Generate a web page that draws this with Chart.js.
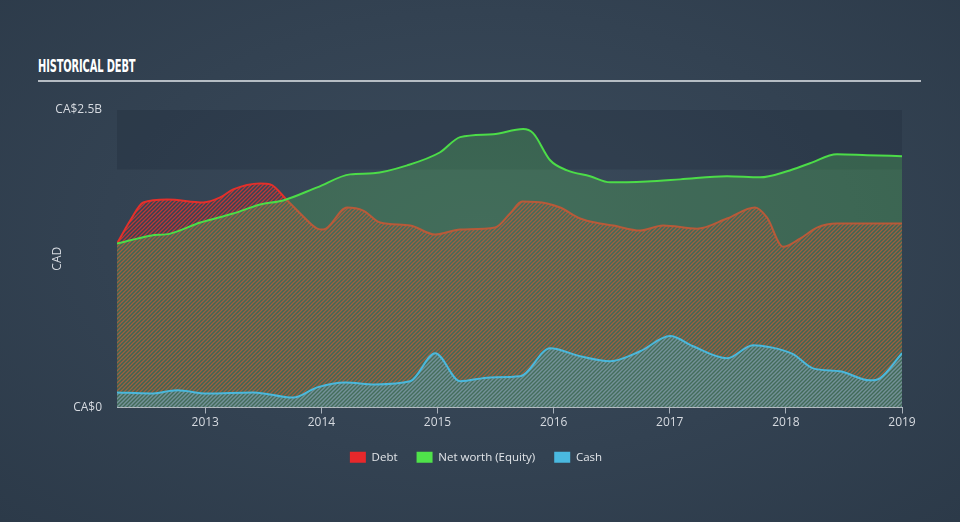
<!DOCTYPE html>
<html>
<head>
<meta charset="utf-8">
<script src="https://cdn.jsdelivr.net/npm/chart.js@4"></script>
<style>
  html, body { margin: 0; padding: 0; }
  body {
    width: 960px; height: 522px; overflow: hidden; position: relative;
    background: radial-gradient(ellipse at 50% 45%, #3b4b5c 0%, #334252 55%, #2c3a49 100%);
  }
  #title {
    position: absolute; left: 38px; top: 55px; width: 883px; height: 25px;
    border-bottom: 2px solid rgba(205, 210, 216, 0.85);
  }
  #title span {
    display: inline-block; transform: scaleX(0.61); transform-origin: left center;
    font-family: "Liberation Sans Narrow", "DejaVu Sans Condensed", sans-serif;
    font-weight: bold; font-size: 18px; color: #ffffff; letter-spacing: -0.2px;
  }
  #wrap { position: absolute; left: 0; top: 0; width: 960px; height: 522px; }
</style>
</head>
<body>
<div id="title"><span>HISTORICAL DEBT</span></div>
<div id="wrap"><canvas id="debtChart" width="960" height="522"></canvas></div>
<script>
// values in CA$ billions, x as decimal years
const debtYears = [2012.24, 2012.354, 2012.466, 2012.673, 2012.983, 2013.129, 2013.241, 2013.473, 2013.56, 2013.706, 2013.818, 2013.964, 2014.016, 2014.222, 2014.36, 2014.506, 2014.765, 2014.98, 2015.195, 2015.496, 2015.625, 2015.729, 2015.944, 2016.056, 2016.228, 2016.4, 2016.512, 2016.745, 2016.942, 2017.235, 2017.493, 2017.734, 2017.838, 2017.975, 2018.122, 2018.268, 2018.44, 2018.724, 2019.0];
const debtValues = [1.377, 1.571, 1.723, 1.748, 1.723, 1.765, 1.833, 1.883, 1.875, 1.74, 1.63, 1.503, 1.495, 1.681, 1.655, 1.554, 1.529, 1.453, 1.495, 1.512, 1.63, 1.731, 1.715, 1.681, 1.588, 1.546, 1.529, 1.487, 1.529, 1.503, 1.588, 1.681, 1.596, 1.351, 1.419, 1.512, 1.546, 1.546, 1.546];

const equityYears = [2012.24, 2012.527, 2012.699, 2012.957, 2013.241, 2013.473, 2013.671, 2013.964, 2014.248, 2014.446, 2014.739, 2015.023, 2015.195, 2015.479, 2015.737, 2015.823, 2015.97, 2016.116, 2016.314, 2016.486, 2016.805, 2017.089, 2017.493, 2017.777, 2018.01, 2018.208, 2018.44, 2018.699, 2019.0];
const equityValues = [1.377, 1.444, 1.461, 1.554, 1.63, 1.706, 1.74, 1.85, 1.959, 1.968, 2.035, 2.145, 2.272, 2.297, 2.34, 2.306, 2.078, 1.993, 1.943, 1.892, 1.9, 1.917, 1.943, 1.934, 1.985, 2.052, 2.128, 2.12, 2.112];

const cashYears = [2012.24, 2012.527, 2012.759, 2013.017, 2013.413, 2013.757, 2013.964, 2014.205, 2014.463, 2014.765, 2014.98, 2015.195, 2015.453, 2015.712, 2015.97, 2016.228, 2016.486, 2016.745, 2017.003, 2017.201, 2017.493, 2017.717, 2017.864, 2018.062, 2018.234, 2018.466, 2018.724, 2018.81, 2019.0];
const cashValues = [0.127, 0.118, 0.144, 0.118, 0.127, 0.084, 0.169, 0.211, 0.194, 0.22, 0.456, 0.22, 0.253, 0.262, 0.498, 0.431, 0.389, 0.473, 0.6, 0.515, 0.414, 0.524, 0.507, 0.448, 0.329, 0.304, 0.228, 0.245, 0.456];

const yearTicks = [2013, 2014, 2015, 2016, 2017, 2018, 2019];
const valueTicks = [0, 2.5];

const toPoints = (xs, ys) => xs.map((x, i) => ({ x: x, y: ys[i] }));

function hatch(color, tint) {
  const c = document.createElement("canvas");
  c.width = 4; c.height = 4;
  const g = c.getContext("2d");
  if (tint) { g.fillStyle = tint; g.fillRect(0, 0, 4, 4); }
  g.strokeStyle = color;
  g.lineWidth = 1.3;
  g.beginPath();
  g.moveTo(0, 4); g.lineTo(4, 0);
  g.moveTo(-1, 1); g.lineTo(1, -1);
  g.moveTo(3, 5); g.lineTo(5, 3);
  g.stroke();
  return g.createPattern(c, "repeat");
}

const solidColors = ["#e8282b", "#4fe24a", "#4ab9e0"];

// darker band between 2.0B and 2.5B
const bandPlugin = {
  id: "band",
  beforeDatasetsDraw(chart) {
    const { ctx, chartArea, scales } = chart;
    const top = scales.y.getPixelForValue(2.5);
    const bottom = scales.y.getPixelForValue(2.0);
    ctx.save();
    ctx.fillStyle = "rgba(22, 32, 46, 0.2)";
    ctx.fillRect(chartArea.left, top, chartArea.right - chartArea.left, bottom - top);
    ctx.restore();
  },
};

Chart.defaults.font.family = "'Open Sans', 'DejaVu Sans', sans-serif";
Chart.defaults.font.size = 12;
Chart.defaults.color = "#d6dae0";

new Chart(document.getElementById("debtChart"), {
  type: "line",
  data: {
    datasets: [
      {
        label: "Debt",
        data: toPoints(debtYears, debtValues),
        borderColor: "#e3302b",
        backgroundColor: hatch("rgba(222, 52, 48, 0.8)"),
        fill: "origin",
        order: 3,
      },
      {
        label: "Net worth (Equity)",
        data: toPoints(equityYears, equityValues),
        borderColor: "#4cdc48",
        backgroundColor: "rgba(86, 190, 89, 0.3)",
        fill: "origin",
        order: 2,
      },
      {
        label: "Cash",
        data: toPoints(cashYears, cashValues),
        borderColor: "#4ab8dc",
        backgroundColor: hatch("rgba(80, 185, 220, 0.55)", "rgba(80, 185, 220, 0.08)"),
        fill: "origin",
        order: 1,
      },
    ],
  },
  options: {
    responsive: false,
    animation: false,
    maintainAspectRatio: false,
    layout: { padding: { left: 50, right: 58, top: 110, bottom: 49 } },
    elements: {
      point: { radius: 0 },
      line: { borderWidth: 2, cubicInterpolationMode: "monotone" },
    },
    plugins: {
      tooltip: { enabled: false },
      legend: {
        position: "bottom",
        labels: {
          boxWidth: 16,
          boxHeight: 11,
          padding: 19,
          color: "#e2e5e9",
          font: { size: 11.5 },
          sort: (a, b) => a.datasetIndex - b.datasetIndex,
          generateLabels: (chart) =>
            Chart.defaults.plugins.legend.labels.generateLabels(chart).map((item) => {
              item.fillStyle = solidColors[item.datasetIndex];
              item.strokeStyle = solidColors[item.datasetIndex];
              item.lineWidth = 0;
              return item;
            }),
        },
      },
    },
    scales: {
      x: {
        type: "linear",
        min: debtYears[0],
        max: 2019.0,
        afterBuildTicks: (scale) => {
          scale.ticks = yearTicks.map((v) => ({ value: v }));
        },
        afterFit: (scale) => { scale.height = 25; },
        ticks: {
          padding: 2,
          autoSkip: false,
          maxRotation: 0,
          color: "#d6dae0",
          callback: (v) => String(v),
        },
        grid: {
          drawOnChartArea: false,
          tickLength: 6,
          color: "rgba(200, 206, 214, 0.8)",
        },
        border: { display: true, color: "rgba(200, 206, 214, 0.9)", width: 1 },
      },
      y: {
        min: 0,
        max: 2.5,
        afterBuildTicks: (scale) => {
          scale.ticks = valueTicks.map((v) => ({ value: v }));
        },
        afterFit: (scale) => { scale.width = 67; },
        ticks: {
          padding: 15,
          color: "#d6dae0",
          callback: (v) => (v === 0 ? "CA$0" : "CA$" + v + "B"),
        },
        grid: { display: false, drawTicks: false },
        border: { display: false },
        title: {
          display: true,
          text: "CAD",
          color: "#d6dae0",
          font: { size: 12 },
          padding: { top: 0, bottom: 0 },
        },
      },
    },
  },
  plugins: [bandPlugin],
});
</script>
</body>
</html>
